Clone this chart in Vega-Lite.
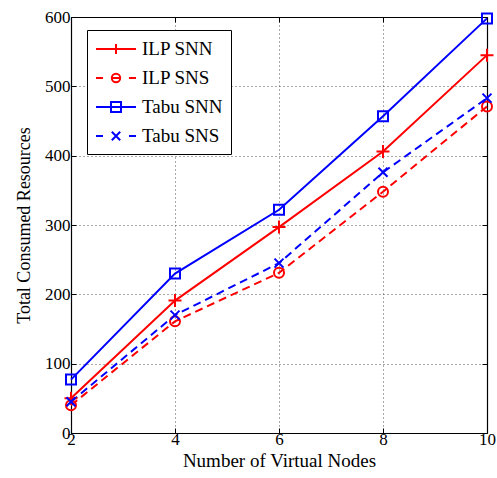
{
  "$schema": "https://vega.github.io/schema/vega-lite/v6.json",
  "width": 416,
  "height": 416,
  "autosize": {"type": "none"},
  "padding": {"left": 71, "top": 17, "right": 10, "bottom": 45},
  "background": "white",
  "config": {
    "view": {"stroke": null},
    "font": "Liberation Serif",
    "axis": {
      "labelFont": "Liberation Serif",
      "titleFont": "Liberation Serif",
      "labelFontSize": 17,
      "titleFontSize": 18,
      "titleFontWeight": "normal",
      "labelColor": "black",
      "titleColor": "black",
      "domainColor": "black",
      "tickColor": "black",
      "domainWidth": 1.2
    },
    "legend": {
      "labelFont": "Liberation Serif",
      "labelFontSize": 19,
      "labelColor": "black"
    }
  },
  "data": {
    "values": [
      {"nodes": 2, "series": "ILP SNN", "value": 50},
      {"nodes": 4, "series": "ILP SNN", "value": 191},
      {"nodes": 6, "series": "ILP SNN", "value": 297},
      {"nodes": 8, "series": "ILP SNN", "value": 406},
      {"nodes": 10, "series": "ILP SNN", "value": 545},
      {"nodes": 2, "series": "ILP SNS", "value": 40},
      {"nodes": 4, "series": "ILP SNS", "value": 161},
      {"nodes": 6, "series": "ILP SNS", "value": 231},
      {"nodes": 8, "series": "ILP SNS", "value": 348},
      {"nodes": 10, "series": "ILP SNS", "value": 471},
      {"nodes": 2, "series": "Tabu SNN", "value": 77},
      {"nodes": 4, "series": "Tabu SNN", "value": 230},
      {"nodes": 6, "series": "Tabu SNN", "value": 322},
      {"nodes": 8, "series": "Tabu SNN", "value": 457},
      {"nodes": 10, "series": "Tabu SNN", "value": 598},
      {"nodes": 2, "series": "Tabu SNS", "value": 45},
      {"nodes": 4, "series": "Tabu SNS", "value": 170},
      {"nodes": 6, "series": "Tabu SNS", "value": 245},
      {"nodes": 8, "series": "Tabu SNS", "value": 376},
      {"nodes": 10, "series": "Tabu SNS", "value": 483}
    ]
  },
  "layer": [
    {
      "transform": [{"filter": "datum.series === 'ILP SNN'"}],
      "mark": {"type": "line", "strokeWidth": 2, "color": "#ff0000"},
      "encoding": {
        "x": {
          "field": "nodes", "type": "quantitative",
          "scale": {"domain": [2, 10], "nice": false, "zero": false},
          "axis": {
            "title": "Number of Virtual Nodes",
            "titleFontSize": 19,
            "values": [2, 4, 6, 8, 10],
            "grid": true, "gridDash": [1, 3], "gridColor": "#555", "gridWidth": 1,
            "tickSize": -5, "labelPadding": 3, "titlePadding": 4,
            "labelFlush": false
          }
        },
        "y": {
          "field": "value", "type": "quantitative",
          "scale": {"domain": [0, 600], "nice": false},
          "axis": {
            "title": "Total Consumed Resources",
            "values": [0, 100, 200, 300, 400, 500, 600],
            "grid": true, "gridDash": [1, 3], "gridColor": "#555", "gridWidth": 1,
            "tickSize": -5, "labelPadding": 6, "titlePadding": 11
          }
        }
      }
    },
    {
      "transform": [{"filter": "datum.series === 'ILP SNS'"}],
      "mark": {"type": "line", "strokeWidth": 2, "color": "#ff0000", "strokeDash": [8, 5]},
      "encoding": {
        "x": {"field": "nodes", "type": "quantitative", "axis": null},
        "y": {"field": "value", "type": "quantitative", "axis": null}
      }
    },
    {
      "transform": [{"filter": "datum.series === 'Tabu SNN'"}],
      "mark": {"type": "line", "strokeWidth": 2, "color": "#0000ff"},
      "encoding": {
        "x": {"field": "nodes", "type": "quantitative", "axis": null},
        "y": {"field": "value", "type": "quantitative", "axis": null}
      }
    },
    {
      "transform": [{"filter": "datum.series === 'Tabu SNS'"}],
      "mark": {"type": "line", "strokeWidth": 2, "color": "#0000ff", "strokeDash": [8, 5]},
      "encoding": {
        "x": {"field": "nodes", "type": "quantitative", "axis": null},
        "y": {"field": "value", "type": "quantitative", "axis": null}
      }
    },
    {
      "transform": [{"filter": "datum.series === 'ILP SNN'"}],
      "mark": {"type": "point", "filled": false, "strokeWidth": 2, "size": 100, "opacity": 1, "color": "#ff0000", "shape": "M-1.3,0H1.3M0,-1.3V1.3"},
      "encoding": {
        "x": {
          "field": "nodes", "type": "quantitative",
          "axis": {"orient": "top", "title": null, "labels": false, "grid": false, "tickSize": -5, "values": [2, 4, 6, 8, 10]}
        },
        "y": {
          "field": "value", "type": "quantitative",
          "axis": {"orient": "right", "title": null, "labels": false, "grid": false, "tickSize": -5, "values": [0, 100, 200, 300, 400, 500, 600]}
        }
      }
    },
    {
      "transform": [{"filter": "datum.series === 'ILP SNS'"}],
      "mark": {"type": "point", "filled": false, "strokeWidth": 2, "size": 100, "opacity": 1, "color": "#ff0000", "shape": "M1,0A1,1 0 1,1 -1,0A1,1 0 1,1 1,0Z"},
      "encoding": {
        "x": {"field": "nodes", "type": "quantitative", "axis": null},
        "y": {"field": "value", "type": "quantitative", "axis": null}
      }
    },
    {
      "transform": [{"filter": "datum.series === 'Tabu SNN'"}],
      "mark": {"type": "point", "filled": false, "strokeWidth": 2, "size": 100, "opacity": 1, "color": "#0000ff", "shape": "M-1,-1H1V1H-1Z"},
      "encoding": {
        "x": {"field": "nodes", "type": "quantitative", "axis": null},
        "y": {"field": "value", "type": "quantitative", "axis": null}
      }
    },
    {
      "transform": [{"filter": "datum.series === 'Tabu SNS'"}],
      "mark": {"type": "point", "filled": false, "strokeWidth": 2, "size": 100, "opacity": 1, "color": "#0000ff", "shape": "M-0.9,-0.9L0.9,0.9M-0.9,0.9L0.9,-0.9"},
      "encoding": {
        "x": {"field": "nodes", "type": "quantitative", "axis": null},
        "y": {"field": "value", "type": "quantitative", "axis": null}
      }
    },
    {
      "mark": {"type": "point", "filled": false, "strokeWidth": 2, "size": 0},
      "encoding": {
        "x": {"field": "nodes", "type": "quantitative", "axis": null},
        "y": {"field": "value", "type": "quantitative", "axis": null},
        "color": {
          "field": "series", "type": "nominal",
          "scale": {"domain": ["ILP SNN", "ILP SNS", "Tabu SNN", "Tabu SNS"], "range": ["#ff0000", "#ff0000", "#0000ff", "#0000ff"]},
          "legend": {
            "title": null,
            "orient": "none",
            "legendX": 16,
            "legendY": 13,
            "padding": 8,
            "strokeColor": "black",
            "fillColor": "white",
            "symbolSize": 400,
            "symbolOffset": 10,
            "symbolStrokeWidth": 2,
            "symbolOpacity": 1,
            "symbolFillColor": "transparent",
            "labelOffset": 15,
            "rowPadding": 8
          }
        },
        "shape": {
          "field": "series", "type": "nominal",
          "scale": {"domain": ["ILP SNN", "ILP SNS", "Tabu SNN", "Tabu SNS"], "range": ["M-2,0H2M0,-0.5V0.5", "M-2,0H-1.3M1.3,0H2M-0.42,0H0.42M0.42,0A0.42,0.42 0 1,1 -0.42,0A0.42,0.42 0 1,1 0.42,0", "M-2,0H2M-0.5,-0.5H0.5V0.5H-0.5Z", "M-2,0H-1.3M1.3,0H2M-0.42,-0.42L0.42,0.42M-0.42,0.42L0.42,-0.42"]},
          "legend": {
            "title": null,
            "orient": "none",
            "legendX": 16,
            "legendY": 13,
            "padding": 8,
            "strokeColor": "black",
            "fillColor": "white",
            "symbolSize": 400,
            "symbolOffset": 10,
            "symbolStrokeWidth": 2,
            "symbolOpacity": 1,
            "symbolFillColor": "transparent",
            "labelOffset": 15,
            "rowPadding": 8
          }
        }
      }
    }
  ],
  "resolve": {"axis": {"x": "independent", "y": "independent"}}
}
